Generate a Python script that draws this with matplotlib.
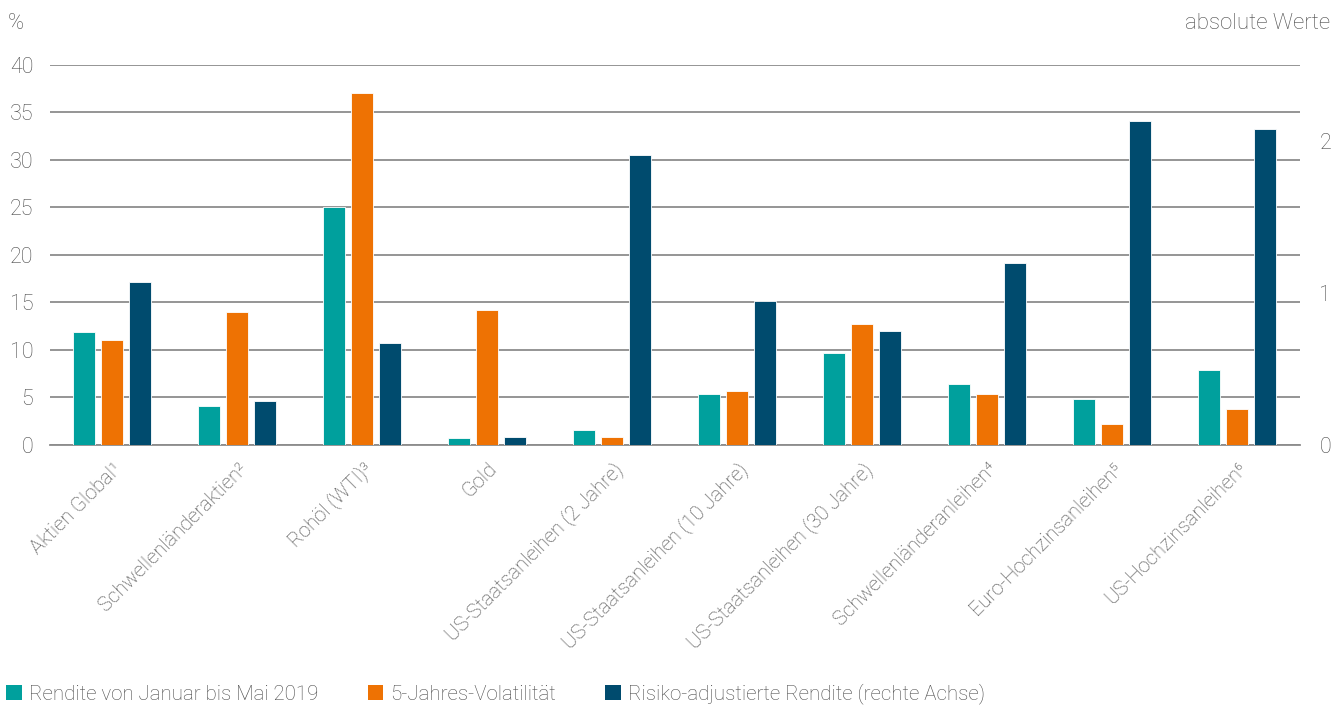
import numpy as np
import matplotlib.pyplot as plt
from matplotlib.patches import Patch

plt.rcParams['font.family'] = ['Roboto', 'DejaVu Sans']
plt.rcParams['font.weight'] = 'light'

# Daten
kategorien = ['Aktien Global¹', 'Schwellenländeraktien²', 'Rohöl (WTI)³', 'Gold',
              'US-Staatsanleihen (2 Jahre)', 'US-Staatsanleihen (10 Jahre)',
              'US-Staatsanleihen (30 Jahre)', 'Schwellenländeranleihen⁴',
              'Euro-Hochzinsanleihen⁵', 'US-Hochzinsanleihen⁶']
rendite = [11.9, 4.1, 25.0, 0.75, 1.6, 5.4, 9.7, 6.4, 4.8, 7.9]
volatilitaet = [11.1, 14.0, 37.0, 14.2, 0.85, 5.7, 12.7, 5.4, 2.2, 3.8]
risiko_adj = [1.07, 0.29, 0.67, 0.053, 1.91, 0.95, 0.75, 1.20, 2.13, 2.08]

serien = ['Rendite von Januar bis Mai 2019', '5-Jahres-Volatilität',
          'Risiko-adjustierte Rendite (rechte Achse)']
farben = ['#00A09D', '#EE7203', '#004B6E']
grau = '#4a4a4a'

fig = plt.figure(figsize=(13.44, 7.06), dpi=100)
ax = fig.add_axes([0.0372, 0.3697, 0.9300, 0.5383])
ax2 = ax.twinx()

x = np.arange(len(kategorien))
b = 0.176
d = 0.224
ax.bar(x - d, rendite, b, color=farben[0], edgecolor='white', linewidth=0.6, zorder=3)
ax.bar(x, volatilitaet, b, color=farben[1], edgecolor='white', linewidth=0.6, zorder=3)
ax2.bar(x + d, risiko_adj, b, color=farben[2], edgecolor='white', linewidth=0.6, zorder=3)

ax.set_xlim(-0.5, len(kategorien) - 0.5)
ax.set_ylim(0, 40)
ax2.set_ylim(0, 2.5)
ax.set_yticks(range(0, 41, 5))
ax2.set_yticks([0, 1, 2])
ax.yaxis.grid(True, color='#8c8c8c', linewidth=1.3, zorder=0)
ax.set_axisbelow(True)

for a in (ax, ax2):
    for s in a.spines.values():
        s.set_visible(False)
ax.spines['bottom'].set_visible(True)
ax.spines['bottom'].set_color('#8c8c8c')
ax.spines['bottom'].set_linewidth(1.3)

ax.tick_params(axis='y', length=0, pad=12, labelsize=15.5, labelcolor=grau)
ax2.tick_params(axis='y', length=0, pad=14, labelsize=15.5, labelcolor=grau)
ax.set_xticks(x)
ax.set_xticklabels(kategorien, rotation=45, ha='right', rotation_mode='anchor',
                   fontsize=14.5, color=grau)
ax.tick_params(axis='x', length=0, pad=10)

fig.text(0.006, 0.967, '%', fontsize=15.5, color=grau, va='center', ha='left')
fig.text(0.990, 0.967, 'absolute Werte', fontsize=16, color=grau, va='center', ha='right')

handles = [Patch(facecolor=c) for c in farben]
leg = fig.legend(handles, serien, loc='lower left', bbox_to_anchor=(-0.003, -0.012), ncol=3,
                 frameon=False, fontsize=14.8, handlelength=0.75, handleheight=0.75,
                 handletextpad=0.35, columnspacing=2.4, borderaxespad=0.1)
for t in leg.get_texts():
    t.set_color(grau)

fig.savefig('out.png', dpi=100)
